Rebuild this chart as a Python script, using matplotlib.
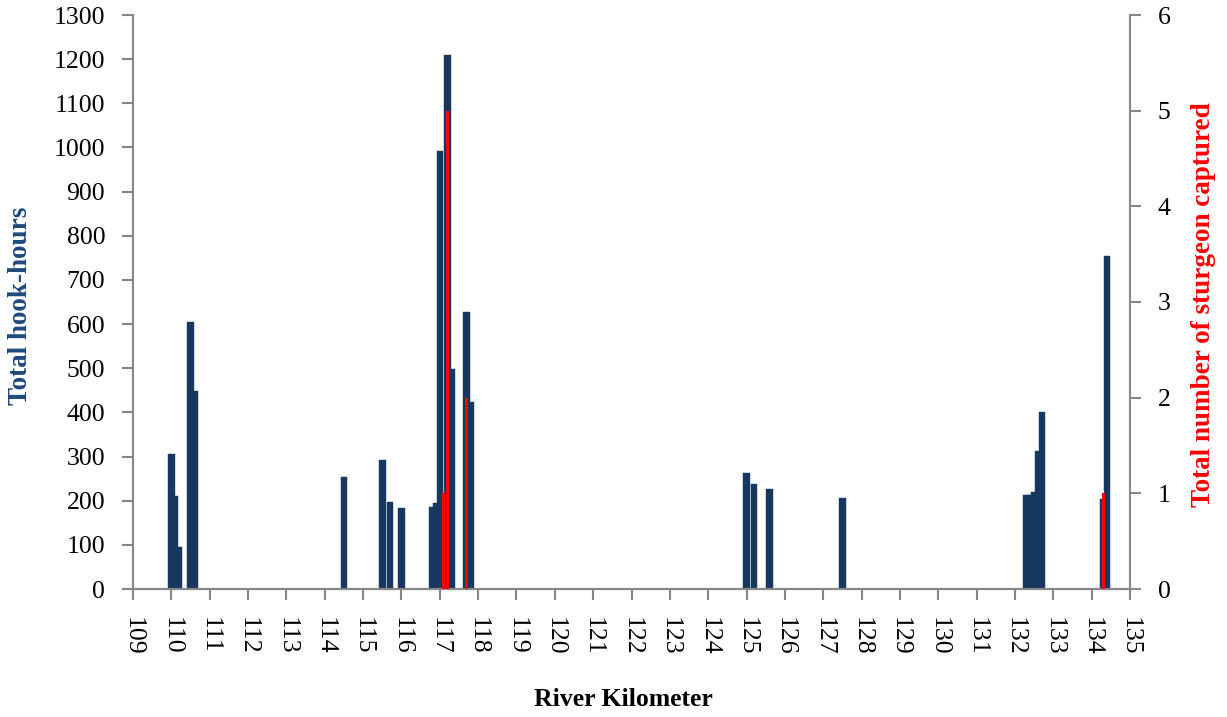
# plot.py
# hook-hours and sturgeon catch by river kilometer

import numpy as np
import matplotlib
matplotlib.use('Agg')
import matplotlib.pyplot as plt

plt.rcParams['font.family'] = ['Liberation Serif', 'DejaVu Serif']

# setline effort (blue bars, left axis)
effort_km = [110.0, 110.1, 110.2, 110.5, 110.6, 114.5, 115.5, 115.7, 116.0,
             116.8, 116.9, 117.0, 117.2, 117.3, 117.7, 117.8, 125.0, 125.2,
             125.6, 127.5, 132.3, 132.4, 132.5, 132.6, 132.7, 134.3, 134.4]
hook_hours = [306, 210, 96, 605, 448, 253, 292, 196, 183,
              186, 195, 993, 1210, 498, 628, 423, 262, 238,
              226, 207, 212, 212, 219, 313, 400, 204, 754]

# sturgeon caught (red bars, right axis)
catch_km = [117.1, 117.2, 117.7, 134.3]
sturgeon = [1, 5, 2, 1]

km_ticks = list(range(109, 136))

BLUE = '#17375E'
LABEL_BLUE = '#1F497D'
RED = '#FF0000'
GREY = '#868686'


def style_axis(ax):
    for s in ax.spines.values():
        s.set_color(GREY)
        s.set_linewidth(1.5)
    ax.tick_params(colors=GREY, labelcolor='black', labelsize=18.5,
                   width=1.5, length=8, direction='out')


def main():
    fig = plt.figure(figsize=(12.27, 7.17), dpi=100)
    ax1 = fig.add_axes([133 / 1227, 1 - 589 / 717, 997 / 1227, 574 / 717])
    ax2 = ax1.twinx()

    # taller bars end up on top, like the original
    order = np.argsort(hook_hours, kind='stable')
    for z, i in enumerate(order):
        ax1.bar(effort_km[i], hook_hours[i], width=0.17, color=BLUE,
                edgecolor=BLUE, linewidth=0.3, zorder=2 + z * 0.01)

    ax2.bar(catch_km, sturgeon, width=0.08, color=RED, linewidth=0, zorder=3)

    ax1.set_xlim(109, 135)
    ax1.set_ylim(0, 1300)
    ax1.set_yticks(range(0, 1301, 100))
    ax1.set_xticks(km_ticks)
    ax1.set_xticklabels([str(k) for k in km_ticks], rotation=270)
    ax2.set_ylim(0, 6)
    ax2.set_yticks(range(0, 7))

    style_axis(ax1)
    style_axis(ax2)
    ax1.spines['top'].set_visible(False)
    ax2.spines['top'].set_visible(False)
    ax1.spines['right'].set_visible(False)
    ax2.spines['left'].set_visible(False)
    ax1.tick_params(axis='y', pad=12)
    ax1.tick_params(axis='x', pad=12)
    ax2.tick_params(axis='y', pad=12)

    fig.text(21 / 1227, 1 - 306 / 717, 'Total hook-hours', rotation=90,
             ha='center', va='center', fontsize=19.5, fontweight='bold',
             color=LABEL_BLUE)
    fig.text(1204 / 1227, 1 - 305 / 717, 'Total number of sturgeon captured',
             rotation=90, ha='center', va='center', fontsize=19.5,
             fontweight='bold', color=RED)
    fig.text(623 / 1227, 1 - 700 / 717, 'River Kilometer', ha='center',
             va='center', fontsize=18.5, fontweight='bold', color='black')

    fig.savefig('out.png', dpi=100)
    return


if __name__ == '__main__':
    main()
